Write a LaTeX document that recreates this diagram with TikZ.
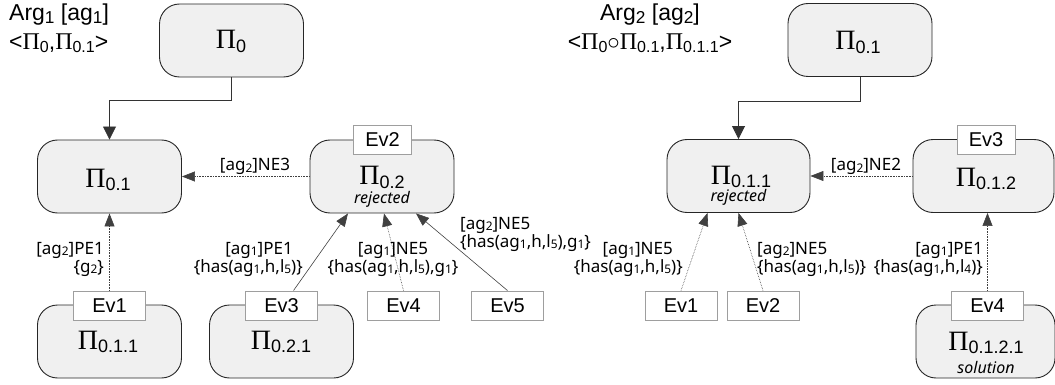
\documentclass[tikz,border=0pt]{standalone}
\usepackage{fontspec}
\usepackage{graphicx}
\setmainfont{Liberation Sans}
\newfontfamily\serifpi{Liberation Serif}
\newfontfamily\lblfont{Noto Sans}
\usetikzlibrary{arrows.meta,calc}

% small lowered index inside edge labels
\newcommand\lsub[1]{\raisebox{-0.1em}{\scalebox{0.7}{#1}}}
% large Pi with index, used inside the phase boxes
\newcommand\bigPi[1]{{\serifpi\fontsize{28}{28}\selectfont Π}\raisebox{-3.5pt}{\fontsize{18}{18}\selectfont #1}}
% smaller Pi with index, used in the argument headers
\newcommand\hdPi[1]{{\serifpi\fontsize{24}{24}\selectfont Π}\raisebox{-3pt}{\fontsize{16}{16}\selectfont #1}}
\newcommand\hsub[1]{\raisebox{-0.12em}{\scalebox{0.75}{#1}}}

\tikzset{
  phase/.style={draw=black!85, fill=black!6, rounded corners=20pt, line width=0.9pt,
    minimum width=144pt, minimum height=73pt, inner sep=0pt},
  evbox/.style={draw=black!38, fill=white, line width=0.9pt, minimum height=29pt,
    inner sep=0pt, font=\fontsize{20}{22}\selectfont},
  evtop/.style={evbox, minimum width=58pt},
  evbot/.style={evbox, minimum width=72pt},
  pitext/.style={inner sep=0pt, anchor=base},
  state/.style={inner sep=0pt, anchor=base, font=\lblfont\itshape\fontsize{16}{16}\selectfont},
  header/.style={inner sep=0pt, font=\fontsize{23}{25}\selectfont},
  conn/.style={draw=black!80, line width=0.8pt, -{Triangle[length=13pt,width=13pt]}},
  link/.style={draw=black!75, line width=0.6pt, -{Triangle[length=13pt,width=10pt]}},
  dotlink/.style={link, densely dotted},
  lbl/.style={inner sep=0pt, font=\lblfont\fontsize{17}{18}\selectfont},
}

\begin{document}
\begin{tikzpicture}[x=1pt, y=-1pt]
\useasboundingbox (0,0) rectangle (1055,385);

% ---------------- Argument 1 ----------------
\node[header, anchor=base west] (arg1) at (9,21) {Arg\hsub{1} [ag\hsub{1}]};
\node[header, anchor=base west] (arg1p) at (9,50) {<\hdPi{0},\hdPi{0.1}>};

\node[phase] (P0)   at (231.5,40.5) {};
\node[phase] (P01)  at (109.5,176.5) {};
\node[phase] (P02)  at (382,176.5) {};
\node[phase] (P011) at (109.5,341.5) {};
\node[phase] (P021) at (281.5,341.5) {};

\node[pitext] (tP0)   at (231,49)  {\bigPi{0}};
\node[pitext] (tP01)  at (108,187) {\bigPi{0.1}};
\node[pitext] (tP02)  at (382,185) {\bigPi{0.2}};
\node[state]  (sP02)  at (382,203) {rejected};
\node[pitext] (tP011) at (108,349) {\bigPi{0.1.1}};
\node[pitext] (tP021) at (281,349) {\bigPi{0.2.1}};

\node[evtop] (Ev2L) at (382.5,140) {Ev2};
\node[evbot] (Ev1L) at (109.5,305.5) {Ev1};
\node[evbot] (Ev3L) at (281.5,305.5) {Ev3};
\node[evbot] (Ev4L) at (403.5,305.5) {Ev4};
\node[evbot] (Ev5L) at (507.5,305.5) {Ev5};

\draw[conn] (P0.south) -- ++(0,23) -| (P01.north);
\draw[dotlink] (P02.west) -- (P01.east);
\draw[dotlink] (Ev1L.north) -- (P01.south);
\draw[link] ($(Ev3L.north)+(12,0)$) -- ($(P02.south)+(-34,0)$);
\draw[dotlink] (Ev4L.north) -- ($(P02.south)+(2,0)$);
\draw[link] (Ev5L.north) -- ($(P02.south)+(34,0)$);

\node[lbl, anchor=base] (lNE3) at (255,171) {[ag\lsub{2}]NE3};
\node[lbl, anchor=east, align=right] (lPE1a) at (104,259) {[ag\lsub{2}]PE1\\\{g\lsub{2}\}};
\node[lbl, anchor=east, align=right] (lPE1b) at (303,259) {[ag\lsub{1}]PE1\hspace*{10pt}\\\{has(ag\lsub{1},h,l\lsub{5})\}};
\node[lbl, align=center] (lNE5a) at (393,259) {[ag\lsub{1}]NE5\\\{has(ag\lsub{1},h,l\lsub{5}),g\lsub{1}\}};
\node[lbl, anchor=west, align=left] (lNE5b) at (460,234) {[ag\lsub{2}]NE5\\\{has(ag\lsub{1},h,l\lsub{5}),g\lsub{1}\}};

% ---------------- Argument 2 ----------------
\node[header, anchor=base] (arg2) at (650,21) {Arg\hsub{2} [ag\hsub{2}]};
\node[header, anchor=base] (arg2p) at (650,50) {<\hdPi{0}$\circ$\hdPi{0.1},\hdPi{0.1.1}>};

\node[phase] (Q01)   at (860,40) {};
\node[phase, minimum width=143pt] (Q011)  at (738.5,176) {};
\node[phase, minimum width=141pt] (Q012)  at (983.5,176) {};
\node[phase, minimum width=139pt] (Q0121) at (985.5,341.5) {};

\node[pitext] (tQ01)   at (858,50)  {\bigPi{0.1}};
\node[pitext] (tQ011)  at (741,184) {\bigPi{0.1.1}};
\node[state]  (sQ011)  at (738.5,201) {rejected};
\node[pitext] (tQ012)  at (986,186) {\bigPi{0.1.2}};
\node[pitext] (tQ0121) at (986,350) {\bigPi{0.1.2.1}};
\node[state]  (sQ0121) at (986,373) {solution};

\node[evtop] (Ev3R) at (986,140) {Ev3};
\node[evbot] (Ev1R) at (681,305.5) {Ev1};
\node[evbot] (Ev2R) at (763,305.5) {Ev2};
\node[evbot] (Ev4R) at (987.5,305.5) {Ev4};

\draw[conn] (Q01.south) -- ++(0,24) -| (Q011.north);
\draw[dotlink] (Q012.west) -- (Q011.east);
\draw[dotlink] (Ev1R.north) -- ($(Q011.south)+(-31,0)$);
\draw[dotlink] (Ev2R.north) -- (Q011.south);
\draw[dotlink] (Ev4R.north) -- (Ev4R.north |- Q012.south);

\node[lbl, anchor=base] (lNE2) at (866,171) {[ag\lsub{2}]NE2};
\node[lbl, anchor=east, align=right] (lNE5c) at (683,259) {[ag\lsub{1}]NE5\hspace*{10pt}\\\{has(ag\lsub{1},h,l\lsub{5})\}};
\node[lbl, anchor=west, align=left] (lNE5d) at (757,259) {[ag\lsub{2}]NE5\\\{has(ag\lsub{1},h,l\lsub{5})\}};
\node[lbl, anchor=east, align=right] (lPE1c) at (983,259) {[ag\lsub{1}]PE1\\\{has(ag\lsub{1},h,l\lsub{4})\}};
\end{tikzpicture}
\end{document}
